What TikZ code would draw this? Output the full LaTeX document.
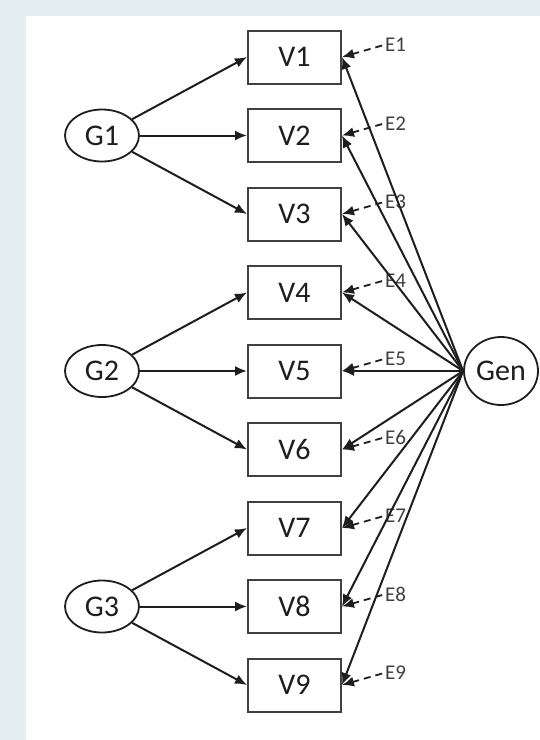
\documentclass[tikz,border=0pt]{standalone}
\usepackage{fontspec}
\setmainfont{Carlito}
\usepackage{tikz}
\usetikzlibrary{arrows.meta,shapes.geometric}
\definecolor{pagebg}{HTML}{E4EFF2}
\definecolor{ink}{HTML}{1E1E1E}

\begin{document}
\begin{tikzpicture}[
x=1pt, y=-1pt,
observed/.style={draw=ink!85, line width=2pt, rectangle, minimum width=93pt, minimum height=53pt, inner sep=0pt, font=\fontsize{30}{30}\selectfont, text=ink},
latent/.style={draw=ink, line width=1.8pt, ellipse, minimum width=74pt, minimum height=52pt, inner sep=0pt, font=\fontsize{30}{30}\selectfont, text=ink},
errlabel/.style={anchor=west, inner sep=1pt, font=\fontsize{21}{21}\selectfont, text=ink!85},
loading/.style={->, draw=ink, line width=2pt, >={Latex[length=12pt,width=10pt]}},
residual/.style={->, draw=ink, dashed, dash pattern=on 7pt off 5pt, line width=1.8pt, shorten <=2pt, >={Latex[length=12pt,width=10pt]}}
]
    % Background and frame
    \fill[pagebg] (0,0) rectangle (540,740);
    \fill[white] (26,16) rectangle (540,740);
    \useasboundingbox (0,0) rectangle (540,740);

    % Indicators
    \node[observed] (V1) at (294.5,57) {V1};
    \node[observed] (V2) at (294.5,135.5) {V2};
    \node[observed] (V3) at (294.5,214) {V3};
    \node[observed] (V4) at (294.5,292.5) {V4};
    \node[observed] (V5) at (294.5,371) {V5};
    \node[observed] (V6) at (294.5,449.5) {V6};
    \node[observed] (V7) at (294.5,528) {V7};
    \node[observed] (V8) at (294.5,606.5) {V8};
    \node[observed] (V9) at (294.5,685) {V9};

    % Group factors and general factor
    \node[latent] (G1) at (102,135.5) {G1};
    \node[latent] (G2) at (102,371) {G2};
    \node[latent] (G3) at (102,606.5) {G3};
    \node[latent, minimum width=74pt, minimum height=68pt] (Gen) at (501,371) {Gen};

    % Errors
    \node[errlabel] (E1) at (384,45) {E1};
    \node[errlabel] (E2) at (384,123.5) {E2};
    \node[errlabel] (E3) at (384,202) {E3};
    \node[errlabel] (E4) at (384,280.5) {E4};
    \node[errlabel] (E5) at (384,359) {E5};
    \node[errlabel] (E6) at (384,437.5) {E6};
    \node[errlabel] (E7) at (384,516) {E7};
    \node[errlabel] (E8) at (384,594.5) {E8};
    \node[errlabel] (E9) at (384,673) {E9};

    % Group loadings
    \draw[loading] (G1) -- (V1.west);
    \draw[loading] (G1) -- (V2.west);
    \draw[loading] (G1) -- (V3.west);
    \draw[loading] (G2) -- (V4.west);
    \draw[loading] (G2) -- (V5.west);
    \draw[loading] (G2) -- (V6.west);
    \draw[loading] (G3) -- (V7.west);
    \draw[loading] (G3) -- (V8.west);
    \draw[loading] (G3) -- (V9.west);

    % General loadings
    \draw[loading] (Gen.west) -- (V1.east);
    \draw[loading] (Gen.west) -- (V2.east);
    \draw[loading] (Gen.west) -- (V3.east);
    \draw[loading] (Gen.west) -- (V4.east);
    \draw[loading] (Gen.west) -- (V5.east);
    \draw[loading] (Gen.west) -- (V6.east);
    \draw[loading] (Gen.west) -- (V7.east);
    \draw[loading] (Gen.west) -- (V8.east);
    \draw[loading] (Gen.west) -- (V9.east);

    % Residuals
    \draw[residual] (E1.west) -- (V1.east);
    \draw[residual] (E2.west) -- (V2.east);
    \draw[residual] (E3.west) -- (V3.east);
    \draw[residual] (E4.west) -- (V4.east);
    \draw[residual] (E5.west) -- (V5.east);
    \draw[residual] (E6.west) -- (V6.east);
    \draw[residual] (E7.west) -- (V7.east);
    \draw[residual] (E8.west) -- (V8.east);
    \draw[residual] (E9.west) -- (V9.east);
\end{tikzpicture}
\end{document}
